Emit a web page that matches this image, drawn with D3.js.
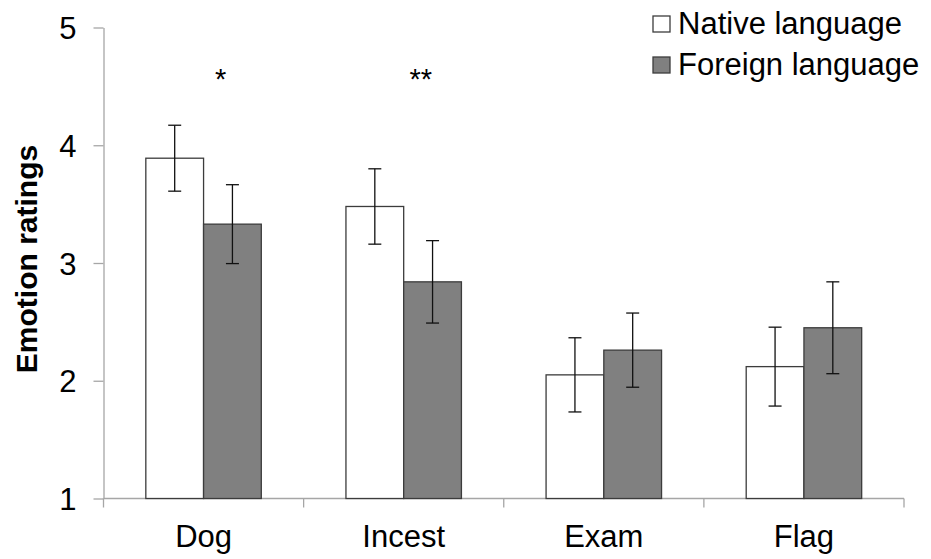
<!DOCTYPE html>
<html>
<head>
<meta charset="utf-8">
<script src="https://cdnjs.cloudflare.com/ajax/libs/d3/7.8.5/d3.min.js"></script>
<style>
  body { margin: 0; background: #fff; }
  svg text { font-family: "Liberation Sans", Arial, sans-serif; fill: #000; }
</style>
</head>
<body>
<svg id="chart"></svg>
<script>
const width = 931
const height = 559

// data
const categories = ["Dog", "Incest", "Exam", "Flag"]
const series = ["Native language", "Foreign language"]
const nativeMeans = [3.89, 3.48, 2.05, 2.12]
const foreignMeans = [3.33, 2.84, 2.26, 2.45]
const nativeErr = [0.28, 0.32, 0.315, 0.335]
const foreignErr = [0.335, 0.35, 0.315, 0.39]
const sigMarks = ["*", "**", "", ""]
const yTicks = [1, 2, 3, 4, 5]

const svg = d3.select("#chart")
            .attr("width", width)
            .attr("height", height);

const axisColor = "#a6a6a6"

const y = d3.scaleLinear()
            .domain([1, 5])
            .range([498.5, 27.5])

const x = d3.scaleBand()
            .domain(categories)
            .range([103.5, 904])
            .padding(0)

const x1 = d3.scaleBand()
            .domain(series)
            .range([0, x.bandwidth()])
            .paddingInner(0)
            .paddingOuter(0.733)

const fills = {"Native language": "#ffffff", "Foreign language": "#808080"}

const rows = categories.map((c, i) => ({
    cat: c,
    values: [
        {s: series[0], mean: nativeMeans[i], err: nativeErr[i]},
        {s: series[1], mean: foreignMeans[i], err: foreignErr[i]}
    ]
}))

// y axis
const yAxis = svg.append("g")
    .attr("transform", "translate(103.5,0)")
    .call(d3.axisLeft(y).tickValues(yTicks).tickFormat(d3.format("d"))
        .tickSize(10).tickSizeOuter(0).tickPadding(17))
yAxis.attr("font-size", null).attr("font-family", null)
yAxis.select(".domain").attr("stroke", axisColor).attr("stroke-width", 1.3)
yAxis.selectAll(".tick line").attr("stroke", axisColor).attr("stroke-width", 1.3)
yAxis.selectAll(".tick text")
    .style("font-size", "31px")
    .attr("dy", "0.36em")

// x axis: baseline with ticks on the band boundaries
const xAxis = svg.append("g")
xAxis.append("line")
    .attr("x1", 103.5).attr("x2", 904)
    .attr("y1", y(1)).attr("y2", y(1))
    .attr("stroke", axisColor).attr("stroke-width", 1.3)
const bounds = categories.map(c => x(c)).concat([x(categories[categories.length - 1]) + x.bandwidth()])
xAxis.selectAll(".xt")
    .data(bounds)
    .enter()
    .append("line")
    .attr("x1", d => d).attr("x2", d => d)
    .attr("y1", y(1)).attr("y2", y(1) + 9)
    .attr("stroke", axisColor).attr("stroke-width", 1.3)
xAxis.selectAll(".xl")
    .data(categories)
    .enter()
    .append("text")
    .attr("x", d => x(d) + x.bandwidth() / 2)
    .attr("y", 547)
    .attr("text-anchor", "middle")
    .style("font-size", "31px")
    .text(d => d)

// bars
const groups = svg.selectAll(".grp")
    .data(rows)
    .enter()
    .append("g")
    .attr("transform", d => `translate(${x(d.cat)},0)`)

groups.selectAll("rect")
    .data(d => d.values)
    .enter()
    .append("rect")
    .attr("x", d => x1(d.s))
    .attr("width", x1.bandwidth())
    .attr("y", d => y(d.mean))
    .attr("height", d => y(1) - y(d.mean))
    .attr("fill", d => fills[d.s])
    .attr("stroke", "#3c3c3c")
    .attr("stroke-width", 1.3)

// error bars
const eb = groups.selectAll(".err")
    .data(d => d.values)
    .enter()
    .append("g")
    .attr("transform", d => `translate(${x1(d.s) + x1.bandwidth() / 2},0)`)
eb.append("line")
    .attr("y1", d => y(d.mean + d.err)).attr("y2", d => y(d.mean - d.err))
    .attr("stroke", "#111").attr("stroke-width", 1.3)
eb.selectAll(".cap")
    .data(d => [d.mean + d.err, d.mean - d.err])
    .enter()
    .append("line")
    .attr("x1", -6.5).attr("x2", 6.5)
    .attr("y1", d => y(d)).attr("y2", d => y(d))
    .attr("stroke", "#111").attr("stroke-width", 1.3)

// significance marks
svg.selectAll(".sig")
    .data(categories)
    .enter()
    .append("text")
    .attr("x", d => x(d) + x.bandwidth() / 2 + 17)
    .attr("y", 89)
    .attr("text-anchor", "middle")
    .style("font-size", "29px")
    .text((d, i) => sigMarks[i])

// y axis title
svg.append("text")
    .attr("transform", "translate(37,259) rotate(-90)")
    .attr("text-anchor", "middle")
    .style("font-size", "30px")
    .attr("font-weight", "bold")
    .text("Emotion ratings")

// legend
const legend = svg.selectAll(".leg")
    .data(series)
    .enter()
    .append("g")
    .attr("transform", (d, i) => `translate(653,${16 + i * 41})`)
legend.append("rect")
    .attr("width", 17).attr("height", 16)
    .attr("fill", d => fills[d])
    .attr("stroke", "#3c3c3c").attr("stroke-width", 1.3)
legend.append("text")
    .attr("x", 25)
    .attr("y", 18)
    .style("font-size", "31px")
    .text(d => d)
</script>
</body>
</html>
